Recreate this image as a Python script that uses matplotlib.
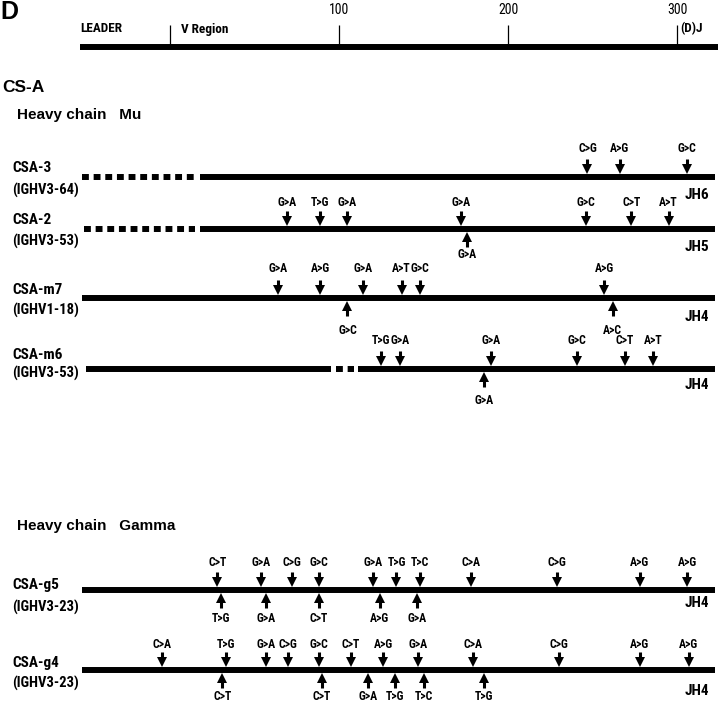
import matplotlib.pyplot as plt
from matplotlib import font_manager

# mutation maps of the heavy chain clones (positions in residue numbering)
ruler_ticks = [0, 100, 200, 300]

names = ['CSA-3', 'CSA-2', 'CSA-m7', 'CSA-m6', 'CSA-g5', 'CSA-g4']
genes = ['(IGHV3-64)', '(IGHV3-53)', '(IGHV1-18)', '(IGHV3-53)', '(IGHV3-23)', '(IGHV3-23)']
jh = ['JH6', 'JH5', 'JH4', 'JH4', 'JH4', 'JH4']

up_pos = [
    [247, 266, 306],
    [69, 89, 105, 172, 246, 273, 295],
    [64, 89, 114, 137, 148, 257],
    [125, 136, 190, 241, 269, 286],
    [28, 54, 72, 88, 120, 134, 148, 178, 229, 278, 306],
    [-5, 33, 57, 70, 88, 107, 126, 147, 179, 230, 278, 307],
]
up_lab = [
    ['C>G', 'A>G', 'G>C'],
    ['G>A', 'T>G', 'G>A', 'G>A', 'G>C', 'C>T', 'A>T'],
    ['G>A', 'A>G', 'G>A', 'A>T', 'G>C', 'A>G'],
    ['T>G', 'G>A', 'G>A', 'G>C', 'C>T', 'A>T'],
    ['C>T', 'G>A', 'C>G', 'G>C', 'G>A', 'T>G', 'T>C', 'C>A', 'C>G', 'A>G', 'A>G'],
    ['C>A', 'T>G', 'G>A', 'C>G', 'G>C', 'C>T', 'A>G', 'G>A', 'C>A', 'C>G', 'A>G', 'A>G'],
]
down_pos = [
    [],
    [176],
    [105, 262],
    [186],
    [30, 57, 88, 124, 146],
    [31, 90, 117, 133, 150, 186],
]
down_lab = [
    [],
    ['G>A'],
    ['G>C', 'A>C'],
    ['G>A'],
    ['T>G', 'G>A', 'C>T', 'A>G', 'G>A'],
    ['C>T', 'C>T', 'G>A', 'T>G', 'T>C', 'T>G'],
]

# layout (pixels)
X0, SC = 170, 1.69
def px(x):
    return (x - X0) / SC

row_y = [177, 229, 298, 369, 590, 670]
name_dy = [-9, -9, -8, -14, -5, -7]
gene_dy = [13, 12, 12, 4, 17, 13]
jh_dy = [18, 18, 19, 16, 13, 21]
lab_up = [-28, -27, -30, -28, -28, -25]
lab_dn = [26, 26, 32, 31, 28, 27]
# (start, end, dashed) in pixel x
segments = [
    [(82, 195, True), (200, 715, False)],
    [(84, 195, True), (200, 715, False)],
    [(82, 715, False)],
    [(86, 331, False), (336, 354, True), (358, 715, False)],
    [(82, 715, False)],
    [(82, 715, False)],
]

avail = {f.name for f in font_manager.fontManager.ttflist}
narrow = [f for f in ['Liberation Sans Narrow', 'Roboto Condensed', 'DejaVu Sans Condensed',
                      'Open Sans Condensed', 'Noto Sans Condensed'] if f in avail] + ['DejaVu Sans']
sans = ['Liberation Sans', 'DejaVu Sans']
plt.rcParams['font.family'] = narrow
plt.rcParams['font.stretch'] = 'condensed'

fig = plt.figure(figsize=(7.2, 7.07), dpi=100)
ax = fig.add_axes([0, 0, 1, 1])
ax.set_xlim(px(0), px(720))
ax.set_ylim(707, 0)
ax.axis('off')

LW = 4.3
dash = (0, (1.15, 0.8))

# ruler
ax.plot([px(80), px(718)], [47, 47], color='k', lw=LW, solid_capstyle='butt')
ax.vlines(ruler_ticks, 25, 46, color='k', lw=0.9)
for t in ruler_ticks[1:]:
    ax.text(t, 10, str(t), ha='center', va='center', fontsize=10)
ax.text(px(80), 29, 'LEADER', ha='left', va='center', fontsize=9.5, fontweight='bold')
ax.text(px(181), 29, 'V Region', ha='left', va='center', fontsize=9.5, fontweight='bold')
ax.text(px(680), 29, '(D)J', ha='left', va='center', fontsize=9.5, fontweight='bold')

ax.text(px(0), 12, 'D', ha='left', va='center', fontsize=18, fontweight='bold', family=sans)
ax.text(px(2), 88, 'CS-A', ha='left', va='center', fontsize=12.5, fontweight='bold', family=sans)
ax.text(px(17), 115, 'Heavy chain   Mu', ha='left', va='center', fontsize=11, fontweight='bold', family=sans)
ax.text(px(17), 526, 'Heavy chain   Gamma', ha='left', va='center', fontsize=11, fontweight='bold', family=sans)

for i, y in enumerate(row_y):
    for s, e, d in segments[i]:
        ax.plot([px(s), px(e)], [y, y], color='k', lw=LW, solid_capstyle='butt',
                dash_capstyle='butt', linestyle=dash if d else '-')
    ax.text(px(12), y + name_dy[i], names[i], ha='left', va='center', fontsize=11, fontweight='bold')
    ax.text(px(12), y + gene_dy[i], genes[i], ha='left', va='center', fontsize=10.5, fontweight='bold')
    ax.text(px(685), y + jh_dy[i], jh[i], ha='left', va='center', fontsize=11, fontweight='bold')

    # arrows pointing down onto the line
    ax.vlines(up_pos[i], y - 18, y - 10, color='k', lw=2.2)
    ax.plot(up_pos[i], [y - 8] * len(up_pos[i]), 'v', color='k', ms=7.5, mew=0, ls='none')
    for x, t in zip(up_pos[i], up_lab[i]):
        ax.text(x, y + lab_up[i], t, ha='center', va='center', fontsize=8.5, fontweight='bold')

    # arrows pointing up from below
    ax.vlines(down_pos[i], y + 10, y + 18, color='k', lw=2.2)
    ax.plot(down_pos[i], [y + 8] * len(down_pos[i]), '^', color='k', ms=7.5, mew=0, ls='none')
    for x, t in zip(down_pos[i], down_lab[i]):
        ax.text(x, y + lab_dn[i], t, ha='center', va='center', fontsize=8.5, fontweight='bold')

fig.savefig('out.png', dpi=100)
